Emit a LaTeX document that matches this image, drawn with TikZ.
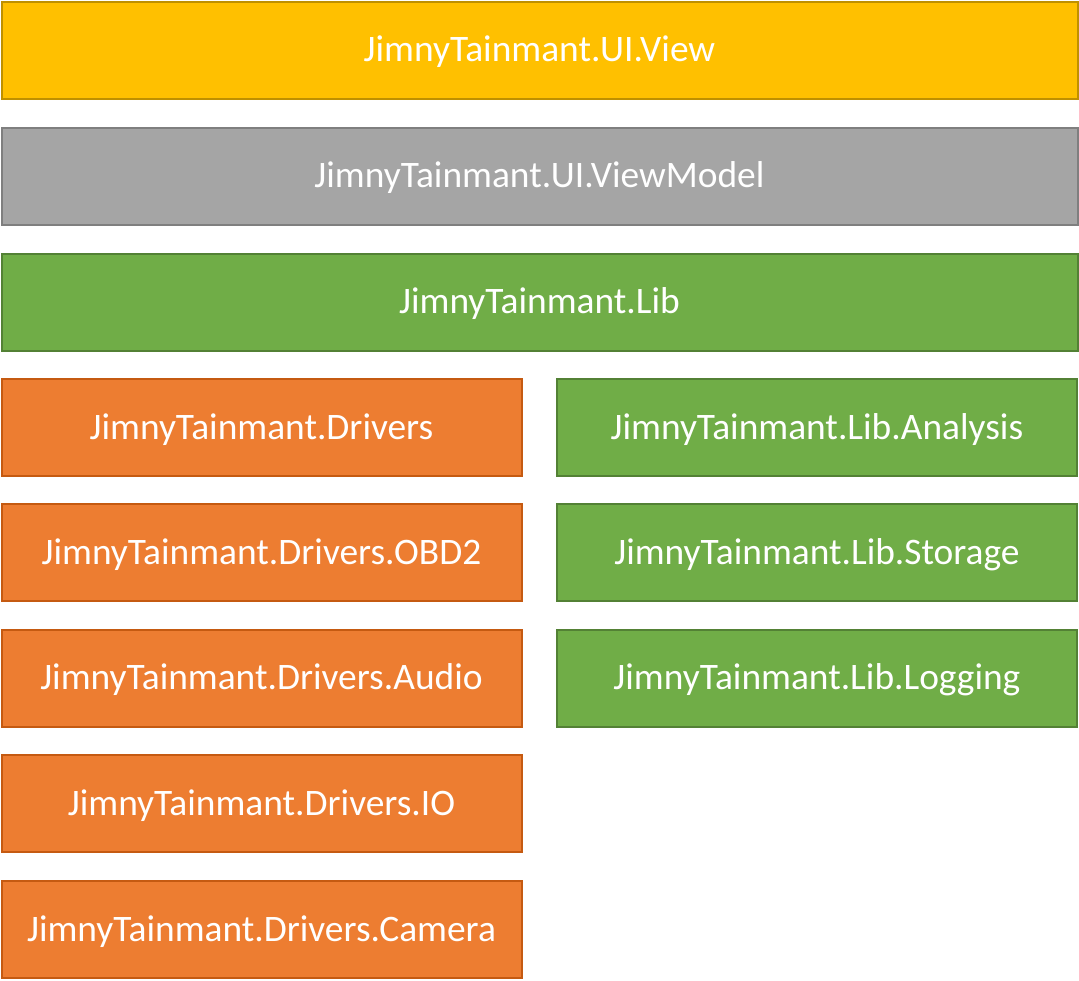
\documentclass[tikz,border=0pt]{standalone}
\usepackage{fontspec}
\setmainfont{Carlito}
\definecolor{viewfill}{HTML}{FFC000}
\definecolor{viewline}{HTML}{BF9000}
\definecolor{vmfill}{HTML}{A5A5A5}
\definecolor{vmline}{HTML}{7F7F7F}
\definecolor{libfill}{HTML}{70AD47}
\definecolor{libline}{HTML}{538135}
\definecolor{drvfill}{HTML}{ED7D31}
\definecolor{drvline}{HTML}{C55A11}
\begin{document}
\begin{tikzpicture}[
        x=1pt,
        y=-1pt,
        line width=2pt,
        font=\fontsize{37.4}{42}\selectfont
    ]
    \tikzset{
        layer/.style = {rectangle, inner sep=0pt, text=white, minimum height=97pt,
            text height=23.5pt, text depth=0pt},
        wide/.style = {layer, minimum width=1076pt},
        half/.style = {layer, minimum width=520pt},
        viewbox/.style = {wide, fill=viewfill, draw=viewline},
        vmbox/.style = {wide, fill=vmfill, draw=vmline},
        libbox/.style = {libboxh, minimum width=1076pt},
        libboxh/.style = {half, fill=libfill, draw=libline},
        drvbox/.style = {half, fill=drvfill, draw=drvline},
    }
    \useasboundingbox (0,0) rectangle (1079,980);
    \node[viewbox] at (539.5,50) (view) {JimnyTainmant.UI.View};
    \node[vmbox] at (539.5,176) (vm) {JimnyTainmant.UI.ViewModel};
    \node[libbox] at (539.5,302) (lib) {JimnyTainmant.Lib};
    %
    \node[drvbox] at (261.5,427.5) (drv) {JimnyTainmant.Drivers};
    \node[drvbox] at (261.5,552.5) (obd) {JimnyTainmant.Drivers.OBD2};
    \node[drvbox] at (261.5,678) (audio) {JimnyTainmant.Drivers.Audio};
    \node[drvbox] at (261.5,803.5) (io) {JimnyTainmant.Drivers.IO};
    \node[drvbox] at (261.5,929.5) (cam) {JimnyTainmant.Drivers.Camera};
    %
    \node[libboxh] at (817,427.5) (ana) {JimnyTainmant.Lib.Analysis};
    \node[libboxh] at (817,552.5) (store) {JimnyTainmant.Lib.Storage};
    \node[libboxh] at (817,678) (log) {JimnyTainmant.Lib.Logging};
\end{tikzpicture}
\end{document}
